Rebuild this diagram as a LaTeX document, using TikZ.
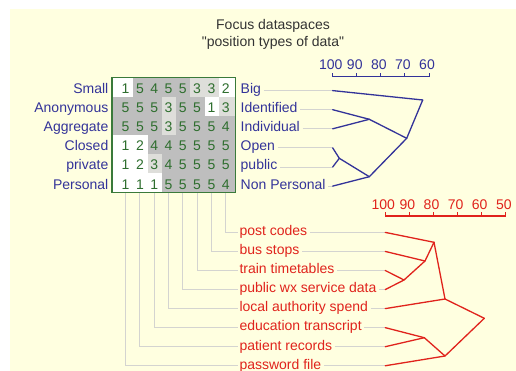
\documentclass[tikz,border=0pt]{standalone}
\usepackage{fontspec}
\setmainfont{Liberation Sans}
\newfontfamily\plainfont{Liberation Sans}
\definecolor{cream}{HTML}{FFFFE0}
\definecolor{lblue}{HTML}{333399}
\definecolor{lred}{HTML}{E0231C}
\definecolor{numgreen}{HTML}{2E6E2E}
\definecolor{boxgreen}{HTML}{3A7A3A}
\definecolor{darkcell}{HTML}{BEBEBE}
\definecolor{lightcell}{HTML}{DEDEDA}
\definecolor{leadgray}{HTML}{D4D4D0}
\definecolor{titlegray}{HTML}{333333}
\newcommand\gridrow[2]{%
  \foreach \v [count=\c from 0] in {#2} {%
    \pgfmathsetmacro\xl{\c==0 ? 112 : 133.25+14.3*(\c-1)}%
    \pgfmathsetmacro\xr{\c==7 ? 235.5 : 133.25+14.3*\c}%
    \pgfmathsetmacro\yt{77.5+19.17*#1}%
    \pgfmathsetmacro\yb{77.5+19.17*(#1+1)}%
    \ifcase\v \def\cc{white}\or\def\cc{white}\or\def\cc{white}\or\def\cc{lightcell}\or\def\cc{darkcell}\or\def\cc{darkcell}\fi
    \fill[\cc] (\xl,\yt) rectangle (\xr,\yb);
    \node[num] (n-#1-\c) at ({125.6+14.3*\c},{88.6+19.1*#1+5}) {\v};
  }%
}
\tikzset{
  txt/.style={font=\plainfont\fontsize{14}{16}\selectfont, inner sep=0pt},
  num/.style={txt, anchor=base, text=numgreen},
  bluelbl/.style={txt, text=lblue},
  redlbl/.style={txt, text=lred},
  leader/.style={draw=leadgray, line width=0.9pt},
  dendB/.style={draw=lblue, line width=1.3pt, line cap=round},
  dendR/.style={draw=lred, line width=1.3pt, line cap=round},
}
\begin{document}
\begin{tikzpicture}[x=1pt,y=-1pt]
\useasboundingbox (0,0) rectangle (516,371);
\fill[cream] (10,9) rectangle (516,371);
% title
\node[txt, anchor=base, text=titlegray] (title1) at (273,30) {Focus dataspaces};
\node[txt, anchor=base, text=titlegray] (title2) at (273,46.7) {"position types of data"};
% grid
\fill[white] (112,77.5) rectangle (235.5,192.5);
\gridrow{0}{1,5,4,5,5,3,3,2}
\gridrow{1}{5,5,5,3,5,5,1,3}
\gridrow{2}{5,5,5,3,5,5,5,4}
\gridrow{3}{1,2,4,4,5,5,5,5}
\gridrow{4}{1,2,3,4,5,5,5,5}
\gridrow{5}{1,1,1,5,5,5,5,4}
\coordinate (gridnw) at (112,77.5);
\coordinate (gridse) at (235.5,192.5);
% left labels
\foreach \t [count=\i from 0] in {Small,Anonymous,Aggregate,Closed,private,Personal} {
  \node[bluelbl, anchor=base east] (ll\i) at (108.5,{88.6+19.1*\i+5}) {\t};
}
% right labels and leaders
\foreach \t [count=\i from 0] in {Big,Identified,Individual,Open,public,Non Personal} {
  \node[bluelbl, anchor=base west] (bl\i) at (240.5,{88.6+19.1*\i+5}) {\t};
  \coordinate (bleaf\i) at (332.7,{88.6+19.1*\i+2});
  \draw[leader] ([xshift=2.5pt]bl\i.east |- bleaf\i) -- (bleaf\i);
}
% red labels and leaders
\foreach \t [count=\i from 0] in {post codes,bus stops,train timetables,public wx service data,local authority spend,education transcript,patient records,password file} {
  \node[redlbl, anchor=base west] (rl\i) at (239.3,{230.7+19.05*\i+5}) {\t};
  \coordinate (rleaf\i) at (385.3,{230.7+19.05*\i+1.7});
  \draw[leader] ([xshift=2.5pt]rl\i.east |- rleaf\i) -- (rleaf\i);
}
% drop lines from grid columns
\foreach \c in {0,...,7} {
  \pgfmathtruncatemacro\k{7-\c}
  \coordinate (colbot\c) at ({125.6+14.3*\c},193.2);
  \draw[leader] (colbot\c) |- ([xshift=-1.5pt]rl\k.west |- rleaf\k);
}
\draw[boxgreen, line width=1.3pt] (gridnw) rectangle (gridse);
% blue scale
\coordinate (bax0) at (332.7,76.7);
\coordinate (bax1) at (429,76.7);
\draw[dendB, line cap=butt] (bax0) -- (bax1);
\foreach \v [count=\i from 0] in {100,90,80,70,60} {
  \coordinate (bt\i) at ({332.7+24.075*\i},76.7);
  \draw[dendB, line width=1pt, line cap=butt] (bt\i) -- ++(0,-3.8);
  \node[bluelbl, anchor=base] (bs\i) at ([xshift=-2pt,yshift=6.7pt]bt\i) {\v};
}
% blue dendrogram
\coordinate (bA) at (422.7,100);
\coordinate (bB) at (369.3,119.3);
\coordinate (bC) at (406.7,138.3);
\coordinate (bD) at (339.3,158.3);
\coordinate (bE) at (369.3,176.7);
\draw[dendB] (bleaf0) -- (bA);
\draw[dendB] (bleaf1) -- (bB);
\draw[dendB] (bleaf2) -- (bB);
\draw[dendB] (bB) -- (bC);
\draw[dendB] (bC) -- (bA);
\draw[dendB] (bleaf3) -- (bD);
\draw[dendB] (bleaf4) -- (bD);
\draw[dendB] (bD) -- (bE);
\draw[dendB] (bleaf5) -- (bE);
\draw[dendB] (bE) -- (bC);
% red scale
\coordinate (rax0) at (385.3,216);
\coordinate (rax1) at (505.8,216);
\draw[dendR, line cap=butt] (rax0) -- (rax1);
\foreach \v [count=\i from 0] in {100,90,80,70,60,50} {
  \coordinate (rt\i) at ({385.3+24.1*\i},216);
  \draw[dendR, line width=1pt, line cap=butt] (rt\i) -- ++(0,-3.8);
  \node[redlbl, anchor=base] (rs\i) at ([xshift=-2pt,yshift=6pt]rt\i) {\v};
}
% red dendrogram
\coordinate (rP) at (434,242.3);
\coordinate (rQ) at (425,261);
\coordinate (rR) at (404,280);
\coordinate (rS) at (445,299);
\coordinate (rT) at (484.3,318.3);
\coordinate (rU) at (424.3,337.7);
\coordinate (rV) at (445,356);
\draw[dendR] (rleaf0) -- (rP);
\draw[dendR] (rleaf1) -- (rQ);
\draw[dendR] (rleaf2) -- (rR);
\draw[dendR] (rleaf3) -- (rR);
\draw[dendR] (rR) -- (rQ);
\draw[dendR] (rQ) -- (rP);
\draw[dendR] (rP) -- (rS);
\draw[dendR] (rleaf4) -- (rS);
\draw[dendR] (rS) -- (rT);
\draw[dendR] (rleaf5) -- (rU);
\draw[dendR] (rleaf6) -- (rU);
\draw[dendR] (rU) -- (rV);
\draw[dendR] (rleaf7) -- (rV);
\draw[dendR] (rV) -- (rT);
\end{tikzpicture}
\end{document}
